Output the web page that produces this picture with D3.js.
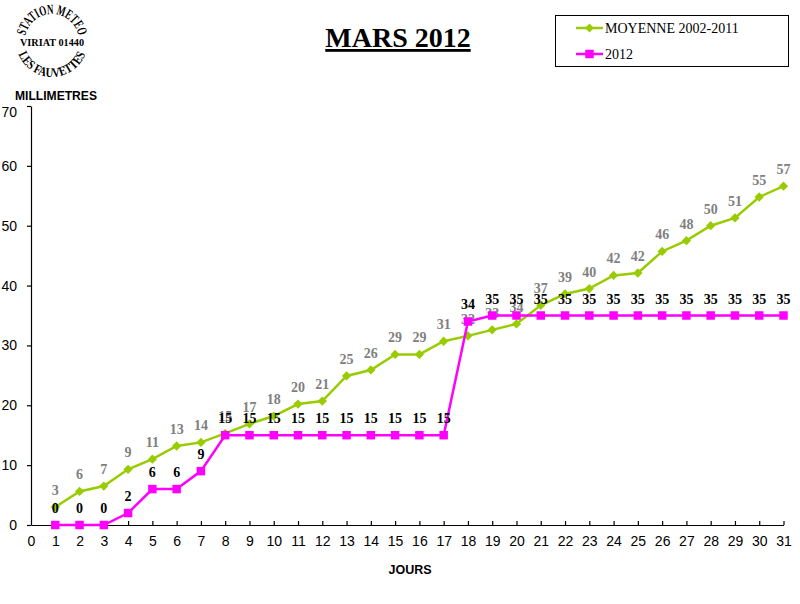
<!DOCTYPE html>
<html><head><meta charset="utf-8">
<script src="https://cdn.jsdelivr.net/npm/d3@7"></script>
<style>
body{margin:0;background:#fff;}
svg{display:block;}
</style></head>
<body>
<svg id="chart" width="800" height="604"></svg>
<script>
const days = d3.range(1, 32);
const moyenne = [3.0, 5.6, 6.5, 9.3, 11.0, 13.2, 13.8, 15.3, 16.9, 18.2, 20.2, 20.7, 24.9, 25.9, 28.5, 28.5, 30.7, 31.6, 32.6, 33.6, 36.7, 38.6, 39.5, 41.7, 42.1, 45.7, 47.5, 50.0, 51.3, 54.8, 56.6];
const y2012 = [0, 0, 0, 2, 6, 6, 9, 15, 15, 15, 15, 15, 15, 15, 15, 15, 15, 34, 35, 35, 35, 35, 35, 35, 35, 35, 35, 35, 35, 35, 35];
const seriesNames = ["MOYENNE 2002-2011", "2012"];
const yTicks = [0, 10, 20, 30, 40, 50, 60, 70];
const xTicks = d3.range(0, 32);
const titleText = "MARS 2012";
const yTitle = "MILLIMETRES";
const xTitle = "JOURS";
const logoTexts = ["STATION METEO", "VIRIAT 01440", "LES FAUVETTES"];

const svg = d3.select("#chart");
const sans = "'Liberation Sans', Arial, sans-serif";
const serif = "'Liberation Serif', 'Times New Roman', serif";
const GREEN = "#99CC00", PINK = "#FF00FF";

const x = d3.scaleLinear().domain([0, 31]).range([31, 783.5]);
const y = d3.scaleLinear().domain([0, 70]).range([525, 106]);

// Logo
const logo = svg.append("g");
const cx = 52, cy = 41;
function pt(r, deg){ const a = deg*Math.PI/180; return [cx + r*Math.cos(a), cy + r*Math.sin(a)]; }
const defs = svg.append("defs");
{
  const r = 27, a = pt(r, 190), b = pt(r, 350);
  defs.append("path").attr("id","arcTop")
    .attr("d", `M${a[0]},${a[1]} A${r},${r} 0 0 1 ${b[0]},${b[1]}`);
  const r2 = 36, c = pt(r2, 160), d = pt(r2, 20);
  defs.append("path").attr("id","arcBot")
    .attr("d", `M${c[0]},${c[1]} A${r2},${r2} 0 0 0 ${d[0]},${d[1]}`);
}
logo.append("text").attr("font-family", serif).attr("font-weight","bold").attr("font-size",14)
  .append("textPath").attr("href","#arcTop").attr("startOffset","50%").attr("text-anchor","middle")
  .attr("textLength", 74).attr("lengthAdjust","spacingAndGlyphs")
  .text(logoTexts[0]);
logo.append("text").attr("x", cx).attr("y", 45.5).attr("text-anchor","middle")
  .attr("font-family", serif).attr("font-weight","bold").attr("font-size",11)
  .attr("textLength", 64).attr("lengthAdjust","spacingAndGlyphs").text(logoTexts[1]);
logo.append("text").attr("font-family", serif).attr("font-weight","bold").attr("font-size",13)
  .append("textPath").attr("href","#arcBot").attr("startOffset","50%").attr("text-anchor","middle")
  .attr("textLength", 86).attr("lengthAdjust","spacingAndGlyphs")
  .text(logoTexts[2]);

// Title
svg.append("text").attr("x", 398).attr("y", 47).attr("text-anchor","middle")
  .attr("font-family", serif).attr("font-weight","bold").attr("font-size",28)
  .attr("text-decoration","underline").text(titleText);

// Axis titles
svg.append("text").attr("x", 15).attr("y", 99.5).attr("font-family", sans)
  .attr("font-weight","bold").attr("font-size",13).attr("textLength",82)
  .attr("lengthAdjust","spacingAndGlyphs").text(yTitle);
svg.append("text").attr("x", 410).attr("y", 574).attr("text-anchor","middle").attr("font-family", sans)
  .attr("font-weight","bold").attr("font-size",12.5).text(xTitle);

// Axes
const yAxis = svg.append("g").attr("transform", `translate(${x(0)},0)`)
  .call(d3.axisLeft(y).tickValues(yTicks).tickSize(4).tickSizeOuter(0).tickPadding(10));
const xAxis = svg.append("g").attr("transform", `translate(0,${y(0)})`)
  .call(d3.axisBottom(x).tickValues(xTicks).tickSizeInner(-4).tickSizeOuter(0).tickPadding(11));
[yAxis, xAxis].forEach(g => {
  g.selectAll("path,line").attr("stroke","#000").attr("stroke-width",1.2);
  g.selectAll("text").attr("font-family", sans).attr("font-size",14).attr("fill","#000");
});
xAxis.select(".tick line").remove();
yAxis.selectAll(".tick").filter(d => d === 70).select("text").attr("dy", "0.75em");

// Series
const line = d3.line().x((d,i) => x(days[i])).y(d => y(d));
function drawSeries(vals, color, shape, labColor){
  svg.append("path").datum(vals).attr("d", line).attr("fill","none")
    .attr("stroke", color).attr("stroke-width", 2.5);
  svg.append("g").selectAll("path").data(vals).join("path")
    .attr("transform", (d,i) => `translate(${x(days[i])},${y(d)})`)
    .attr("d", d3.symbol().type(shape).size(shape === d3.symbolSquare ? 72 : 55))
    .attr("fill", color);
  svg.append("g").selectAll("text").data(vals).join("text")
    .attr("x", (d,i) => x(days[i])).attr("y", d => y(d) - 12)
    .attr("text-anchor","middle").attr("font-family", serif).attr("font-weight","bold")
    .attr("font-size",14).attr("fill", labColor).text(d => Math.round(d));
}
drawSeries(moyenne, GREEN, d3.symbolDiamond2, "#808080");
drawSeries(y2012, PINK, d3.symbolSquare, "#000");

// Legend
const lg = svg.append("g");
lg.append("rect").attr("x", 555.5).attr("y", 15.5).attr("width", 233).attr("height", 51)
  .attr("fill","#fff").attr("stroke","#000").attr("stroke-width",1);
const legendItems = [
  {name: seriesNames[0], color: GREEN, shape: d3.symbolDiamond2, yy: 28},
  {name: seriesNames[1], color: PINK, shape: d3.symbolSquare, yy: 54}
];
legendItems.forEach(it => {
  lg.append("line").attr("x1",576).attr("x2",603).attr("y1",it.yy).attr("y2",it.yy)
    .attr("stroke", it.color).attr("stroke-width",2.5);
  lg.append("path").attr("transform",`translate(589.5,${it.yy})`)
    .attr("d", d3.symbol().type(it.shape).size(it.shape === d3.symbolSquare ? 72 : 50)).attr("fill", it.color);
  lg.append("text").attr("x",605).attr("y",it.yy+5).attr("font-family", serif)
    .attr("font-size",14).attr("fill","#000").text(it.name);
});
</script>
</body></html>
